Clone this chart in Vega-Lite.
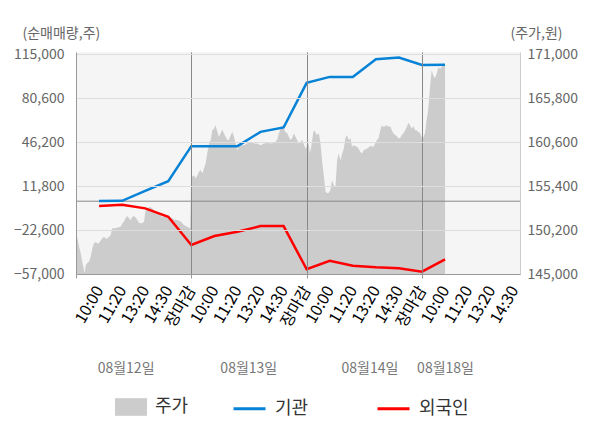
{
  "$schema": "https://vega.github.io/schema/vega-lite/v6.json",
  "width": 444,
  "height": 222,
  "autosize": {"type": "none"},
  "padding": {"left": 76, "top": 52, "right": 80, "bottom": 154},
  "background": "white",
  "config": {
    "view": {"fill": "#f5f5f5", "stroke": null},
    "font": "Noto Sans CJK KR",
    "axis": {"labelFont": "Noto Sans CJK KR", "titleFont": "Noto Sans CJK KR"},
    "legend": {"labelFont": "Noto Sans CJK KR"}
  },
  "datasets": {
    "price": [
      {"t":0,"p":149800},{"t":0.06,"p":149250},{"t":0.13,"p":148250},{"t":0.2,"p":147500},{"t":0.27,"p":146450},{"t":0.35,"p":145450},{"t":0.38,"p":145100},{"t":0.42,"p":146050},{"t":0.49,"p":146300},{"t":0.56,"p":146450},{"t":0.64,"p":147050},{"t":0.71,"p":148050},{"t":0.78,"p":148650},{"t":0.85,"p":148800},{"t":0.92,"p":148650},{"t":1.0,"p":148650},{"t":1.07,"p":149000},{"t":1.14,"p":149200},{"t":1.21,"p":149400},{"t":1.29,"p":149200},{"t":1.36,"p":149200},{"t":1.43,"p":149400},{"t":1.5,"p":149600},{"t":1.57,"p":150400},{"t":1.65,"p":150400},{"t":1.72,"p":150400},{"t":1.79,"p":150500},{"t":1.94,"p":150600},{"t":2.01,"p":151000},{"t":2.08,"p":151200},{"t":2.15,"p":151600},{"t":2.22,"p":151850},{"t":2.3,"p":151600},{"t":2.37,"p":151400},{"t":2.44,"p":151750},{"t":2.51,"p":151850},{"t":2.59,"p":151700},{"t":2.66,"p":151400},{"t":2.73,"p":151050},{"t":2.8,"p":151000},{"t":2.87,"p":151000},{"t":2.95,"p":151200},{"t":3.02,"p":152550},{"t":3.09,"p":152750},{"t":3.16,"p":152900},{"t":3.24,"p":152900},{"t":3.31,"p":152750},{"t":3.38,"p":152550},{"t":3.45,"p":152350},{"t":3.52,"p":152150},{"t":3.6,"p":152150},{"t":3.67,"p":151950},{"t":3.74,"p":151750},{"t":3.81,"p":151850},{"t":3.89,"p":151750},{"t":3.96,"p":151700},{"t":4.1,"p":151700},{"t":4.17,"p":151600},{"t":4.25,"p":151450},{"t":4.39,"p":151400},{"t":4.54,"p":151200},{"t":4.68,"p":150800},{"t":4.82,"p":150600},{"t":4.95,"p":150400},
      {"t":5.0,"p":156900},{"t":5.04,"p":156500},{"t":5.12,"p":156700},{"t":5.19,"p":156300},{"t":5.26,"p":156700},{"t":5.33,"p":157100},{"t":5.4,"p":157300},{"t":5.48,"p":156900},{"t":5.55,"p":157500},{"t":5.62,"p":158100},{"t":5.69,"p":159250},{"t":5.77,"p":160450},{"t":5.84,"p":160850},{"t":5.91,"p":162000},{"t":5.98,"p":162200},{"t":6.05,"p":162600},{"t":6.13,"p":161800},{"t":6.2,"p":161200},{"t":6.27,"p":161650},{"t":6.34,"p":162100},{"t":6.41,"p":161650},{"t":6.49,"p":161200},{"t":6.56,"p":160850},{"t":6.63,"p":160850},{"t":6.71,"p":161450},{"t":6.78,"p":161800},{"t":6.85,"p":161200},{"t":6.92,"p":160450},{"t":6.99,"p":159650},{"t":7.06,"p":160050},{"t":7.13,"p":160250},{"t":7.28,"p":160250},{"t":7.42,"p":160450},{"t":7.57,"p":160650},{"t":7.71,"p":160450},{"t":7.86,"p":160450},{"t":8.0,"p":160250},{"t":8.15,"p":160450},{"t":8.29,"p":160500},{"t":8.44,"p":160450},{"t":8.58,"p":160500},{"t":8.72,"p":160850},{"t":8.8,"p":161650},{"t":8.87,"p":162200},{"t":8.94,"p":162600},{"t":9.01,"p":162200},{"t":9.08,"p":161800},{"t":9.16,"p":161650},{"t":9.23,"p":161200},{"t":9.3,"p":160850},{"t":9.37,"p":161050},{"t":9.45,"p":161650},{"t":9.52,"p":161200},{"t":9.59,"p":160850},{"t":9.66,"p":160450},{"t":9.74,"p":160650},{"t":9.81,"p":160850},{"t":9.89,"p":160250},{"t":9.96,"p":159850},
      {"t":10.0,"p":160050},{"t":10.03,"p":160650},{"t":10.1,"p":160250},{"t":10.14,"p":159250},{"t":10.2,"p":160050},{"t":10.29,"p":161800},{"t":10.34,"p":162000},{"t":10.43,"p":161450},{"t":10.53,"p":161650},{"t":10.6,"p":160450},{"t":10.68,"p":158100},{"t":10.75,"p":156500},{"t":10.82,"p":154750},{"t":10.89,"p":154550},{"t":10.96,"p":154600},{"t":11.03,"p":154950},{"t":11.1,"p":156100},{"t":11.18,"p":155500},{"t":11.25,"p":155300},{"t":11.32,"p":158450},{"t":11.39,"p":159250},{"t":11.47,"p":158450},{"t":11.54,"p":159250},{"t":11.61,"p":159850},{"t":11.68,"p":161050},{"t":11.75,"p":161450},{"t":11.82,"p":160850},{"t":11.9,"p":161050},{"t":11.97,"p":160050},{"t":12.04,"p":160250},{"t":12.18,"p":160050},{"t":12.25,"p":159850},{"t":12.33,"p":159450},{"t":12.4,"p":159250},{"t":12.47,"p":159650},{"t":12.62,"p":159850},{"t":12.76,"p":160150},{"t":12.9,"p":160050},{"t":12.97,"p":160450},{"t":13.05,"p":160850},{"t":13.12,"p":161050},{"t":13.19,"p":162000},{"t":13.26,"p":162600},{"t":13.33,"p":162400},{"t":13.41,"p":162500},{"t":13.48,"p":162600},{"t":13.55,"p":162400},{"t":13.62,"p":162500},{"t":13.69,"p":162000},{"t":13.76,"p":161650},{"t":13.84,"p":161450},{"t":13.91,"p":161300},{"t":13.98,"p":161050},{"t":14.05,"p":161050},{"t":14.12,"p":161450},{"t":14.2,"p":161650},{"t":14.27,"p":162000},{"t":14.34,"p":162400},{"t":14.41,"p":162900},{"t":14.48,"p":162600},{"t":14.56,"p":162200},{"t":14.63,"p":162500},{"t":14.7,"p":162000},{"t":14.77,"p":162000},{"t":14.84,"p":161800},{"t":14.91,"p":161700},{"t":14.97,"p":161300},
      {"t":15.0,"p":161150},{"t":15.06,"p":161150},{"t":15.13,"p":161650},{"t":15.2,"p":163200},{"t":15.27,"p":164400},{"t":15.35,"p":167150},{"t":15.42,"p":169100},{"t":15.49,"p":168500},{"t":15.56,"p":168150},{"t":15.64,"p":168700},{"t":15.71,"p":169500},{"t":15.78,"p":169300},{"t":15.85,"p":169450},{"t":15.92,"p":169900},{"t":16.0,"p":169700}
    ],
    "flows": [
      {"t":1,"s":"기관","v":200},{"t":2,"s":"기관","v":300},{"t":3,"s":"기관","v":8000},{"t":4,"s":"기관","v":15700},{"t":5,"s":"기관","v":43100},{"t":6,"s":"기관","v":43100},{"t":7,"s":"기관","v":43100},{"t":8,"s":"기관","v":54300},{"t":9,"s":"기관","v":57700},{"t":10,"s":"기관","v":92600},{"t":11,"s":"기관","v":97300},{"t":12,"s":"기관","v":97300},{"t":13,"s":"기관","v":111100},{"t":14,"s":"기관","v":112450},{"t":15,"s":"기관","v":106700},{"t":16,"s":"기관","v":106900},
      {"t":1,"s":"외국인","v":-3800},{"t":2,"s":"외국인","v":-2800},{"t":3,"s":"외국인","v":-5600},{"t":4,"s":"외국인","v":-12200},{"t":5,"s":"외국인","v":-34300},{"t":6,"s":"외국인","v":-27300},{"t":7,"s":"외국인","v":-23900},{"t":8,"s":"외국인","v":-19500},{"t":9,"s":"외국인","v":-19500},{"t":10,"s":"외국인","v":-53300},{"t":11,"s":"외국인","v":-46600},{"t":12,"s":"외국인","v":-50500},{"t":13,"s":"외국인","v":-51800},{"t":14,"s":"외국인","v":-52500},{"t":15,"s":"외국인","v":-55200},{"t":16,"s":"외국인","v":-45500}
    ]
  },
  "layer": [
    {
      "data": {"name": "price"},
      "mark": {"type": "area", "opacity": 1},
      "encoding": {
        "x": {
          "field": "t", "type": "quantitative",
          "scale": {"domain": [0, 19.25], "nice": false, "zero": false},
          "axis": {
            "orient": "bottom", "zindex": 1,
            "values": [0,1,2,3,4,5,6,7,8,9,10,11,12,13,14,15,16,17,18,19],
            "labelExpr": "datum.value == 0 ? '' : (datum.value % 5 == 0 ? '장마감' : ['', '10:00', '11:20', '13:20', '14:30'][datum.value % 5])",
            "labelAngle": -60, "labelAlign": "right", "labelBaseline": "middle",
            "labelFontSize": 16, "labelPadding": 9, "labelFlush": false, "labelOverlap": false, "labelBound": false,
            "grid": true, "gridColor": "#888888",
            "gridOpacity": {"condition": {"test": "datum.value % 5 == 0 && datum.value > 0", "value": 1}, "value": 0},
            "tickOpacity": {"condition": {"test": "datum.value % 5 == 0", "value": 1}, "value": 0},
            "domainColor": "#999999", "tickColor": "#999999", "tickSize": 4,
            "title": null,
            "encode": {
              "labels": {"update": {"fill": {"signal": "datum.value % 5 == 0 ? '#ff0000' : (datum.value == 16 ? '#222222' : '#777777')"}}}
            }
          }
        },
        "y": {
          "field": "p", "type": "quantitative",
          "scale": {"domain": [145000, 171270], "nice": false, "zero": false},
          "axis": {
            "orient": "right",
            "values": [145000,150200,155400,160600,165800,171000],
            "format": ",.0f", "grid": false, "ticks": false,
            "domainColor": "#cccccc", "labelPadding": 7, "labelFontSize": 14, "labelColor": "#666666",
            "title": "(주가,원)", "titleAngle": 0, "titleAlign": "left", "titleBaseline": "middle",
            "titleX": -10, "titleY": -19, "titleFontSize": 14, "titleFontWeight": "normal", "titleColor": "#666666"
          }
        },
        "y2": {"datum": 145000},
        "fill": {
          "datum": "주가", "type": "nominal",
          "scale": {"domain": ["주가"], "range": ["#cccccc"]},
          "legend": {
            "orient": "none", "legendX": 39, "legendY": 339, "direction": "horizontal",
            "title": null, "labelFontSize": 18, "labelColor": "#333333",
            "symbolType": "M-1,-0.55H1V0.55H-1Z", "symbolSize": 1024, "symbolStrokeWidth": 0,
            "symbolOpacity": 1, "labelOffset": 8
          }
        }
      }
    },
    {
      "data": {"name": "flows"},
      "layer": [
        {
          "data": {"values": [{}]},
          "mark": {"type": "rule", "color": "#888888", "strokeWidth": 1},
          "encoding": {"y": {"datum": 0, "type": "quantitative"}}
        },
        {
          "mark": {"type": "line", "strokeWidth": 2.5},
          "encoding": {
            "x": {
              "field": "t", "type": "quantitative",
              "axis": {
                "orient": "bottom",
                "values": [2.15, 7.47, 12.72, 16],
                "labelExpr": "datum.value < 5 ? '08월12일' : (datum.value < 10 ? '08월13일' : (datum.value < 15 ? '08월14일' : '08월18일'))",
                "labelAngle": 0, "labelAlign": "center", "labelBaseline": "middle",
                "labelPadding": 94, "ticks": false, "domain": false, "grid": false,
                "labelFontSize": 14, "labelColor": "#777777", "title": null,
                "labelFlush": false, "labelOverlap": false
              }
            },
            "y": {
              "field": "v", "type": "quantitative",
              "scale": {"domain": [-57000, 116800], "nice": false, "zero": false},
              "axis": {
                "orient": "left", "zindex": 1,
                "values": [-57000,-22600,11800,46200,80600,115000],
                "format": ",.0f", "grid": true, "gridColor": "#dddddd", "ticks": false,
                "domainColor": "#999999", "labelPadding": 12, "labelFontSize": 14, "labelColor": "#666666",
                "title": "(순매매량,주)", "titleAngle": 0, "titleAlign": "left", "titleBaseline": "middle",
                "titleX": -54, "titleY": -19, "titleFontSize": 14, "titleFontWeight": "normal", "titleColor": "#666666"
              }
            },
            "stroke": {
              "field": "s", "type": "nominal",
              "scale": {"domain": ["기관", "외국인"], "range": ["#0682d6", "#ff0000"]},
              "legend": {
                "orient": "none", "legendX": 156, "legendY": 339, "direction": "horizontal",
                "title": null, "labelFontSize": 18, "labelColor": "#333333",
                "symbolType": "stroke", "symbolSize": 1024, "symbolStrokeWidth": 3,
                "labelOffset": 8, "columnPadding": 62
              }
            }
          }
        }
      ]
    }
  ],
  "resolve": {"scale": {"y": "independent"}, "axis": {"x": "independent"}}
}
